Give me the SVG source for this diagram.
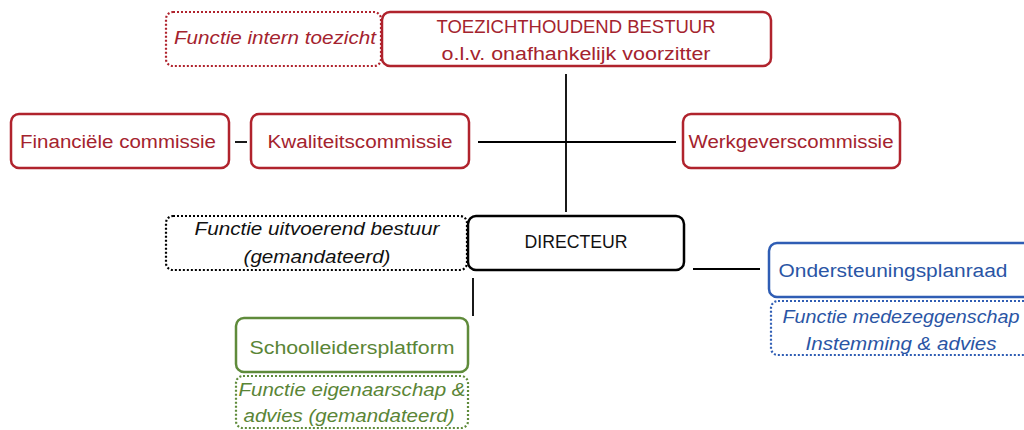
<svg xmlns="http://www.w3.org/2000/svg" width="1024" height="430" viewBox="0 0 1024 430">
<style>
text{font-family:"Liberation Sans","Open Sans",sans-serif;font-size:18px;text-anchor:middle}
.it{font-style:italic}
.box{fill:#fff;stroke-width:2.5}
.dot{fill:none;stroke-width:2.2;stroke-dasharray:2 2}
.red{stroke:#B0232D}
.redt{fill:#A4232E}
.blk{stroke:#000}
.blkt{fill:#111}
.blu{stroke:#2F5DB4}
.blut{fill:#2A55A5}
.grn{stroke:#5F8B3B}
.grnt{fill:#5A8536}
.ln{stroke:#000;stroke-width:1.8;fill:none}
</style>
<rect width="1024" height="430" fill="#fff"/>
<g id="connectors">
<line class="ln" x1="566" y1="74" x2="566" y2="212"/>
<line class="ln" x1="235" y1="142" x2="247" y2="142"/>
<line class="ln" x1="478" y1="142" x2="676" y2="142"/>
<line class="ln" x1="693" y1="269" x2="760" y2="269"/>
<line class="ln" x1="473" y1="278" x2="473" y2="316"/>
</g>
<g id="intern-toezicht">
<rect class="dot red" x="166" y="12" width="215" height="54" rx="7"/>
<text class="it redt" x="275" y="44" textLength="202" lengthAdjust="spacingAndGlyphs">Functie intern toezicht</text>
</g>
<g id="toezichthoudend-bestuur">
<rect class="box red" x="382" y="12" width="389" height="54" rx="8"/>
<text class="redt" x="576" y="33" textLength="279" lengthAdjust="spacingAndGlyphs">TOEZICHTHOUDEND BESTUUR</text>
<text class="redt" x="576" y="60" textLength="269" lengthAdjust="spacingAndGlyphs">o.l.v. onafhankelijk voorzitter</text>
</g>
<g id="financiele-commissie">
<rect class="box red" x="11" y="114" width="218" height="54" rx="8"/>
<text class="redt" x="118" y="148" textLength="196" lengthAdjust="spacingAndGlyphs">Financiële commissie</text>
</g>
<g id="kwaliteitscommissie">
<rect class="box red" x="251" y="114" width="218" height="54" rx="8"/>
<text class="redt" x="360" y="148" textLength="185" lengthAdjust="spacingAndGlyphs">Kwaliteitscommissie</text>
</g>
<g id="werkgeverscommissie">
<rect class="box red" x="683" y="114" width="217" height="54" rx="8"/>
<text class="redt" x="791" y="148" textLength="205" lengthAdjust="spacingAndGlyphs">Werkgeverscommissie</text>
</g>
<g id="uitvoerend-bestuur">
<rect class="dot blk" x="166" y="216" width="301" height="54" rx="7"/>
<text class="it blkt" x="317" y="235" textLength="245" lengthAdjust="spacingAndGlyphs">Functie uitvoerend bestuur</text>
<text class="it blkt" x="317" y="263" textLength="147" lengthAdjust="spacingAndGlyphs">(gemandateerd)</text>
</g>
<g id="directeur">
<rect class="box blk" x="468" y="216" width="216" height="54" rx="8"/>
<text class="blkt" x="576" y="248" textLength="103" lengthAdjust="spacingAndGlyphs">DIRECTEUR</text>
</g>
<g id="ondersteuningsplanraad">
<rect class="box blu" x="769" y="243" width="270" height="54" rx="8"/>
<text class="blut" x="893" y="277" textLength="229" lengthAdjust="spacingAndGlyphs">Ondersteuningsplanraad</text>
</g>
<g id="medezeggenschap">
<rect class="dot blu" x="771" y="301" width="270" height="54" rx="7"/>
<text class="it blut" x="901" y="323" textLength="237" lengthAdjust="spacingAndGlyphs">Functie medezeggenschap</text>
<text class="it blut" x="901" y="350" textLength="191" lengthAdjust="spacingAndGlyphs">Instemming &amp; advies</text>
</g>
<g id="schoolleidersplatform">
<rect class="box grn" x="236" y="318" width="232" height="54" rx="8"/>
<text class="grnt" x="352" y="354" textLength="205" lengthAdjust="spacingAndGlyphs">Schoolleidersplatform</text>
</g>
<g id="eigenaarschap">
<rect class="dot grn" x="236" y="376" width="232" height="52" rx="7"/>
<text class="it grnt" x="352" y="396" textLength="227" lengthAdjust="spacingAndGlyphs">Functie eigenaarschap &amp;</text>
<text class="it grnt" x="349" y="422" textLength="211" lengthAdjust="spacingAndGlyphs">advies (gemandateerd)</text>
</g>
</svg>
